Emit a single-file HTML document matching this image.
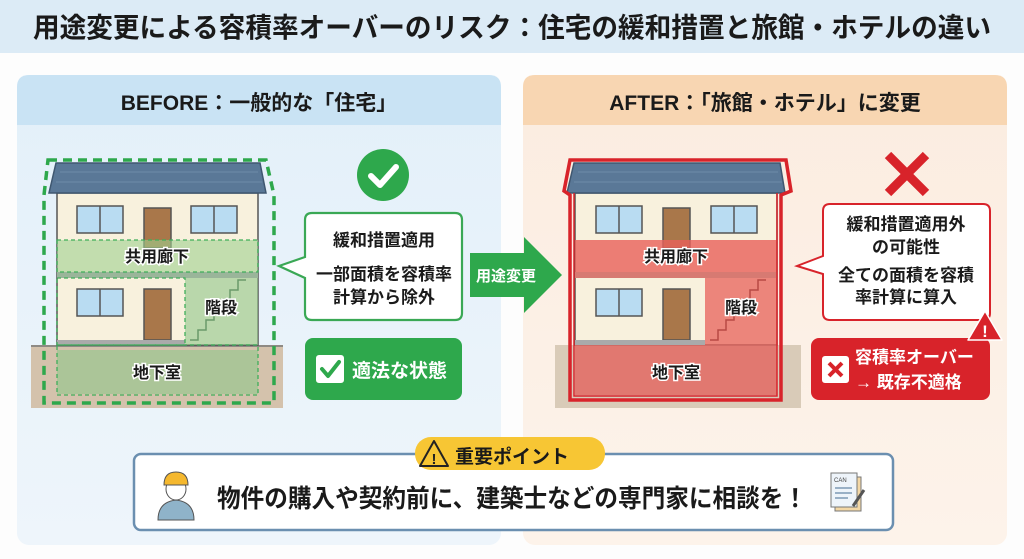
<!DOCTYPE html>
<html><head><meta charset="utf-8"><style>
html,body{margin:0;padding:0;background:#fff;}
svg{display:block;font-family:"Liberation Sans","Noto Sans CJK JP",sans-serif;}
</style></head><body>
<svg width="1024" height="559" viewBox="0 0 1024 559" xmlns="http://www.w3.org/2000/svg">
<defs>
<linearGradient id="bgL" x1="0" y1="0" x2="0" y2="1"><stop offset="0" stop-color="#e3f0f9"/><stop offset="1" stop-color="#eef5fb"/></linearGradient>
<linearGradient id="bgR" x1="0" y1="0" x2="0" y2="1"><stop offset="0" stop-color="#fbece0"/><stop offset="1" stop-color="#fdf3ea"/></linearGradient>
</defs>
<rect x="0" y="0" width="1024" height="559" fill="#fdfdfd"/>
<rect x="0" y="0" width="1024" height="53" fill="#dcebf6"/>
<text x="512" y="37" font-size="27.5" font-weight="bold" text-anchor="middle" fill="#1a1a1a" textLength="958" lengthAdjust="spacingAndGlyphs">用途変更による容積率オーバーのリスク：住宅の緩和措置と旅館・ホテルの違い</text>

<rect x="17" y="75" width="484" height="470" rx="12" fill="url(#bgL)"/>
<path d="M17 125 V87 Q17 75 29 75 H489 Q501 75 501 87 V125 Z" fill="#c9e3f4"/>
<text x="259" y="110" font-size="21" font-weight="bold" text-anchor="middle" fill="#1a1a1a">BEFORE：一般的な「住宅」</text>

<rect x="523" y="75" width="484" height="470" rx="12" fill="url(#bgR)"/>
<path d="M523 125 V87 Q523 75 535 75 H995 Q1007 75 1007 87 V125 Z" fill="#f8d6b2"/>
<text x="765" y="110" font-size="21" font-weight="bold" text-anchor="middle" fill="#1a1a1a">AFTER：「旅館・ホテル」に変更</text>

<!-- LEFT HOUSE -->
<rect x="31" y="345" width="252" height="63" fill="#d4c2ac"/>
<line x1="31" y1="346" x2="283" y2="346" stroke="#777" stroke-width="1.5"/>
<rect x="57" y="193" width="201" height="152" fill="#f8f1dd" stroke="#555" stroke-width="1.5"/>
<polygon points="56,163 260,163 266,193 49,193" fill="#5a7897" stroke="#3f5770" stroke-width="1.5"/>
<line x1="60" y1="172" x2="258" y2="172" stroke="#6f8ba8"/><line x1="56" y1="182" x2="262" y2="182" stroke="#6f8ba8"/>
<g fill="#b9dcf2" stroke="#555" stroke-width="1.5">
<rect x="77" y="206" width="46" height="27"/><rect x="191" y="206" width="46" height="27"/><rect x="77" y="289" width="46" height="27"/>
</g>
<g stroke="#555" stroke-width="1.5"><line x1="100" y1="206" x2="100" y2="233"/><line x1="214" y1="206" x2="214" y2="233"/><line x1="100" y1="289" x2="100" y2="316"/></g>
<rect x="144" y="208" width="27" height="40" fill="#a9774a" stroke="#555" stroke-width="1.5"/>
<rect x="144" y="289" width="27" height="51" fill="#a9774a" stroke="#555" stroke-width="1.5"/>
<rect x="57" y="240" width="201" height="32" fill="#9fd08f" fill-opacity="0.6"/>
<rect x="57" y="272" width="201" height="6" fill="#9ab59a"/>
<rect x="185" y="278" width="73" height="67" fill="#8fc78a" fill-opacity="0.6"/>
<polyline points="190,340 198,340 198,330 206,330 206,320 214,320 214,310 222,310 222,300 230,300 230,290 238,290 238,280 246,280" fill="none" stroke="#6a9a6a" stroke-width="1.5"/>
<rect x="57" y="340" width="128" height="5" fill="#aaa"/>
<rect x="57" y="350" width="201" height="44" fill="#8fc78a" fill-opacity="0.6"/>
<g fill="none" stroke="#3fae5a" stroke-width="1.3" stroke-dasharray="4,3">
<rect x="57" y="240" width="201" height="32"/><rect x="57" y="278" width="128" height="67"/><rect x="57" y="345" width="201" height="50"/>
</g>
<path d="M48 160 H266 L274 195 V403 H44 V195 Z" fill="none" stroke="#2ea84c" stroke-width="3.5" stroke-dasharray="9,6"/>
<g font-size="16" font-weight="bold" fill="#1a1a1a" text-anchor="middle" stroke="#fff" stroke-width="3" paint-order="stroke">
<text x="157" y="262">共用廊下</text><text x="221" y="313">階段</text><text x="157" y="378">地下室</text></g>

<circle cx="383" cy="175" r="26" fill="#2ea84c"/>
<polyline points="371,176 380,185 396,167" fill="none" stroke="#fff" stroke-width="6" stroke-linecap="round" stroke-linejoin="round"/>
<path d="M312 213 H455 Q462 213 462 220 V313 Q462 320 455 320 H312 Q305 320 305 313 V278 L279 266 L305 257 V220 Q305 213 312 213 Z" fill="#fff" stroke="#3aa855" stroke-width="2.2"/>
<g font-size="17" font-weight="bold" fill="#1a1a1a" text-anchor="middle">
<text x="384" y="246">緩和措置適用</text><text x="384" y="280">一部面積を容積率</text><text x="384" y="303">計算から除外</text></g>
<rect x="305" y="338" width="157" height="62" rx="8" fill="#2ea84c"/>
<rect x="316" y="355" width="28" height="28" rx="3" fill="#fff"/>
<polyline points="322,369 328,376 339,362" fill="none" stroke="#2ea84c" stroke-width="4" stroke-linecap="round" stroke-linejoin="round"/>
<text x="352" y="377" font-size="19" font-weight="bold" fill="#fff">適法な状態</text>

<polygon points="470,253 524,253 524,237 562,275 524,313 524,297 470,297" fill="#2ea84c"/>
<text x="506" y="281" font-size="15" font-weight="bold" fill="#fff" text-anchor="middle">用途変更</text>

<!-- RIGHT HOUSE -->
<rect x="555" y="345" width="246" height="63" fill="#d9cbb8"/>
<rect x="575" y="193" width="202" height="152" fill="#f8f1dd" stroke="#555" stroke-width="1.5"/>
<polygon points="574,163 780,163 785,193 567,193" fill="#5a7897" stroke="#3f5770" stroke-width="1.5"/>
<line x1="578" y1="172" x2="778" y2="172" stroke="#6f8ba8"/><line x1="574" y1="182" x2="782" y2="182" stroke="#6f8ba8"/>
<g fill="#b9dcf2" stroke="#555" stroke-width="1.5">
<rect x="596" y="206" width="46" height="27"/><rect x="711" y="206" width="46" height="27"/><rect x="596" y="289" width="46" height="27"/>
</g>
<g stroke="#555" stroke-width="1.5"><line x1="619" y1="206" x2="619" y2="233"/><line x1="734" y1="206" x2="734" y2="233"/><line x1="619" y1="289" x2="619" y2="316"/></g>
<rect x="663" y="208" width="27" height="40" fill="#a9774a" stroke="#555" stroke-width="1.5"/>
<rect x="663" y="289" width="27" height="51" fill="#a9774a" stroke="#555" stroke-width="1.5"/>
<rect x="575" y="240" width="202" height="32" fill="#e8605a" fill-opacity="0.8"/>
<rect x="575" y="272" width="202" height="6" fill="#d77a72"/>
<rect x="705" y="278" width="72" height="67" fill="#e8605a" fill-opacity="0.75"/>
<polyline points="710,340 718,340 718,330 726,330 726,320 734,320 734,310 742,310 742,300 750,300 750,290 758,290 758,280 766,280" fill="none" stroke="#b84a44" stroke-width="1.5"/>
<rect x="575" y="340" width="130" height="5" fill="#aaa"/>
<rect x="575" y="345" width="202" height="50" fill="#e26a63" fill-opacity="0.85"/>
<path d="M570 160 H786 L791 191 L781 195 V400 H570 V195 L564 191 Z" fill="none" stroke="#d8232a" stroke-width="3.5"/>
<path d="M574 193 V396 H777 V193" fill="none" stroke="#d8232a" stroke-width="1.5"/>
<g font-size="16" font-weight="bold" fill="#1a1a1a" text-anchor="middle" stroke="#fff" stroke-width="3" paint-order="stroke">
<text x="676" y="262">共用廊下</text><text x="741" y="313">階段</text><text x="676" y="378">地下室</text></g>

<g stroke="#d8232a" stroke-width="9" stroke-linecap="butt"><line x1="888" y1="155" x2="926" y2="193"/><line x1="926" y1="155" x2="888" y2="193"/></g>
<path d="M830 204 H983 Q990 204 990 211 V313 Q990 320 983 320 H830 Q823 320 823 313 V274 L797 266 L823 256 V211 Q823 204 830 204 Z" fill="#fff" stroke="#d8232a" stroke-width="2"/>
<g font-size="17" font-weight="bold" fill="#1a1a1a" text-anchor="middle">
<text x="906" y="230">緩和措置適用外</text><text x="906" y="253">の可能性</text><text x="906" y="281">全ての面積を容積</text><text x="906" y="303">率計算に算入</text></g>
<rect x="811" y="338" width="179" height="62" rx="8" fill="#d8232a"/>
<rect x="822" y="356" width="27" height="27" rx="3" fill="#fff"/>
<g stroke="#d8232a" stroke-width="4"><line x1="829" y1="363" x2="842" y2="376"/><line x1="842" y1="363" x2="829" y2="376"/></g>
<text x="855" y="363" font-size="17" font-weight="bold" fill="#fff">容積率オーバー</text>
<text x="855" y="388" font-size="17" font-weight="bold" fill="#fff">→ 既存不適格</text>
<polygon points="985,311 1002,340 968,340" fill="#d8232a" stroke="#fff" stroke-width="1.5" stroke-linejoin="round"/>
<text x="985" y="337" font-size="17" font-weight="bold" fill="#fff" text-anchor="middle">!</text>

<rect x="134" y="454" width="759" height="76" rx="7" fill="#fff" stroke="#6b8fb0" stroke-width="2.5"/>
<rect x="415" y="437" width="190" height="33" rx="16" fill="#f7c634"/>
<polygon points="434,441 448,466 420,466" fill="#f7c634" stroke="#222" stroke-width="2" stroke-linejoin="round"/>
<text x="434" y="464" font-size="15" font-weight="bold" fill="#222" text-anchor="middle">!</text>
<text x="455" y="463" font-size="19" font-weight="bold" fill="#1a1a1a">重要ポイント</text>
<path d="M158 520 Q158 502 176 500 Q194 502 194 520 Z" fill="#8fb3c9" stroke="#555" stroke-width="1"/>
<ellipse cx="176" cy="489" rx="10" ry="11" fill="#fff" stroke="#555"/>
<path d="M164 485 Q164 472 176 472 Q188 472 188 485 Z" fill="#f5b82e" stroke="#555"/>
<text x="512" y="507" font-size="25" font-weight="bold" fill="#1a1a1a" text-anchor="middle" textLength="590" lengthAdjust="spacingAndGlyphs">物件の購入や契約前に、建築士などの専門家に相談を！</text>
<rect x="835" y="477" width="26" height="34" fill="#f3d7a5" stroke="#777"/>
<rect x="831" y="473" width="26" height="34" fill="#eef4fa" stroke="#777"/>
<text x="834" y="482" font-size="6" fill="#444">CAN</text>
<g stroke="#7d9ab5" stroke-width="1.5"><line x1="835" y1="488" x2="852" y2="488"/><line x1="835" y1="493" x2="852" y2="493"/><line x1="835" y1="498" x2="848" y2="498"/></g>
<line x1="853" y1="506" x2="864" y2="490" stroke="#555" stroke-width="3"/>
</svg>
</body></html>
